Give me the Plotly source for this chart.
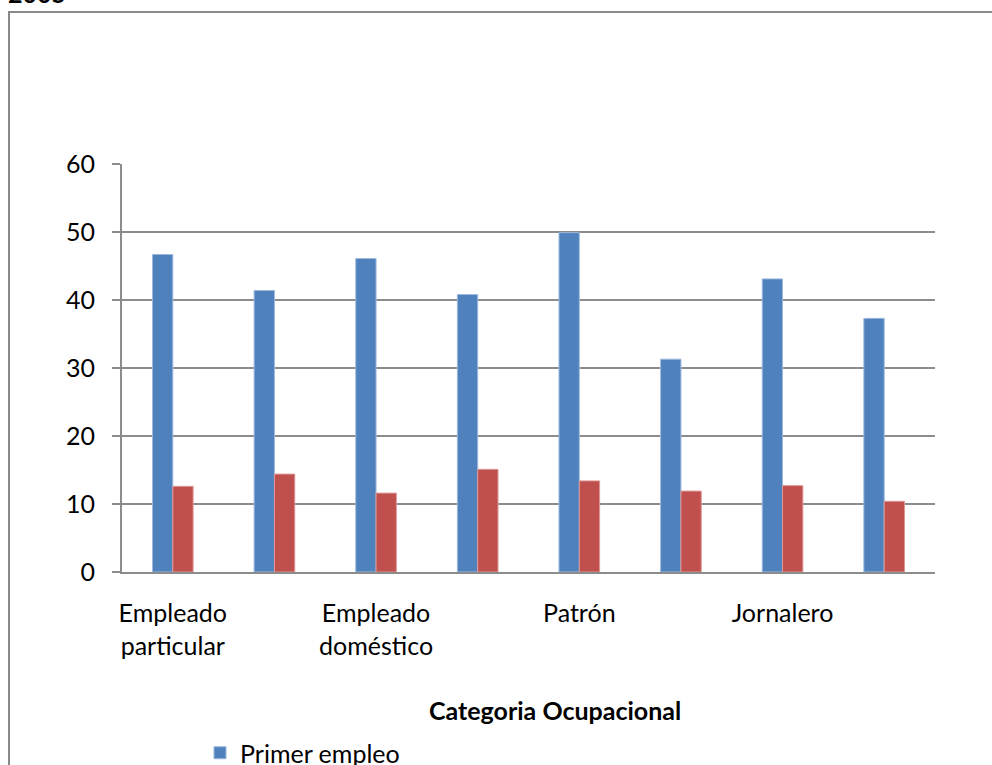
import plotly.graph_objects as go

# Data
positions = [0, 1, 2, 3, 4, 5, 6, 7]
primer_empleo = [46.7, 41.4, 46.1, 40.8, 49.9, 31.3, 43.1, 37.3]
segunda_serie = [12.6, 14.4, 11.6, 15.1, 13.4, 11.9, 12.7, 10.4]
tick_positions = [0, 2, 4, 6]
tick_labels = ["Empleado<br>particular", "Empleado<br>doméstico", "Patrón", "Jornalero"]
y_ticks = [0, 10, 20, 30, 40, 50, 60]

FONT = "Lato, Calibri, Carlito, sans-serif"
FS = 25
GRID = "#8c8c8c"

fig = go.Figure()
fig.add_trace(go.Bar(
    x=positions, y=primer_empleo, name="Primer empleo",
    marker=dict(color="#4F81BD", line=dict(color="#9DB9DE", width=1)),
))
fig.add_trace(go.Bar(
    x=positions, y=segunda_serie, name="Empleo actual", showlegend=False,
    marker=dict(color="#C0504D", line=dict(color="#DD9896", width=1)),
))

W, H = 992, 765
ml, mr, mt, mb = 122, 57, 164, 193
pw, ph = W - ml - mr, H - mt - mb

def px_x(x):
    return (x - ml) / pw

def px_y(y):
    return 1 - (y - mt) / ph

fig.update_layout(
    width=W, height=H,
    margin=dict(l=ml, r=mr, t=mt, b=mb, pad=0, autoexpand=False),
    paper_bgcolor="white", plot_bgcolor="white",
    barmode="group", bargap=0.6, bargroupgap=0,
    font=dict(family=FONT, size=FS, color="black"),
    showlegend=True,
    legend=dict(
        orientation="h", x=px_x(200), xanchor="left", y=px_y(730), yanchor="top",
        font=dict(size=FS, family=FONT), bgcolor="rgba(0,0,0,0)",
        itemwidth=30,
    ),
    xaxis=dict(
        range=[-0.5, 7.5], tickmode="array", tickvals=tick_positions, ticktext=tick_labels,
        showgrid=False, showline=True, linecolor=GRID, linewidth=2,
        ticks="", ticklabelstandoff=18,
        fixedrange=True,
    ),
    yaxis=dict(
        range=[0, 60], tickmode="array", tickvals=y_ticks,
        showgrid=True, gridcolor=GRID, gridwidth=2,
        showline=True, linecolor=GRID, linewidth=2,
        ticks="outside", ticklen=8, tickcolor=GRID, tickwidth=2,
        ticklabelstandoff=12, zeroline=False,
    ),
    shapes=[dict(
        type="rect", xref="paper", yref="paper",
        x0=px_x(9), x1=px_x(1000), y0=px_y(780), y1=px_y(12),
        line=dict(color="#8a8a8a", width=2), fillcolor="rgba(0,0,0,0)", layer="below",
    )],
    annotations=[
        dict(
            text="<b>2005</b>", xref="paper", yref="paper",
            x=px_x(6), y=px_y(10), xanchor="left", yanchor="bottom",
            showarrow=False, font=dict(size=FS, family=FONT),
        ),
        dict(
            text="<b>Categoria Ocupacional</b>", xref="paper", yref="paper",
            x=px_x(555), y=px_y(710), xanchor="center", yanchor="middle",
            showarrow=False, font=dict(size=FS, family=FONT),
        ),
    ],
)

fig.write_html("out.html")
